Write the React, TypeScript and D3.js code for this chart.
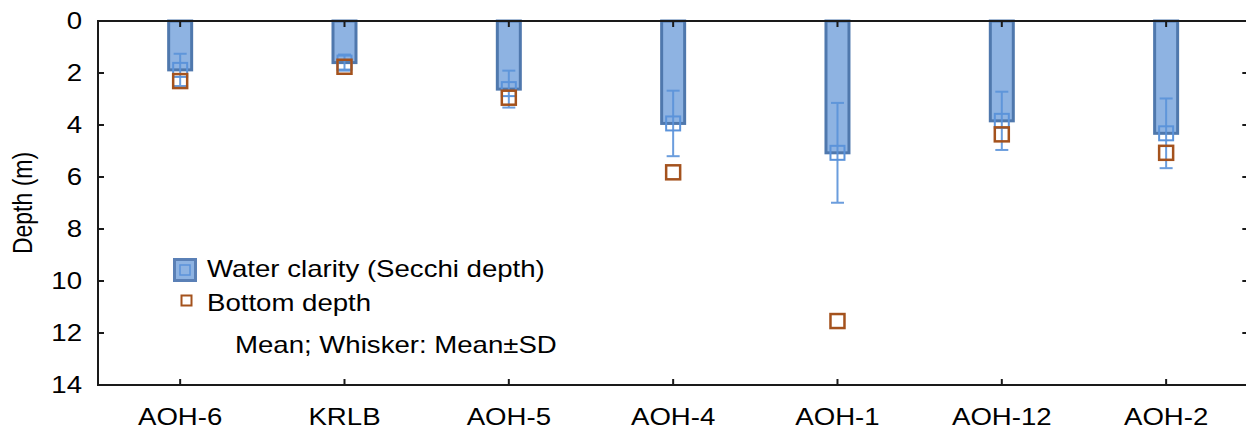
import React from 'react';
import * as d3 from 'd3';

const sites = ['AOH-6', 'KRLB', 'AOH-5', 'AOH-4', 'AOH-1', 'AOH-12', 'AOH-2'];
const secchiMean = [1.88, 1.6, 2.62, 3.94, 5.07, 3.84, 4.32];
const secchiSD = [0.62, 0.31, 0.71, 1.26, 1.92, 1.12, 1.34];
const bottomDepth = [2.31, 1.76, 2.95, 5.82, 11.54, 4.36, 5.07];
const yTicks = [0, 2, 4, 6, 8, 10, 12, 14];

const legendLabels = ['Water clarity (Secchi depth)', 'Bottom depth'];
const noteText = 'Mean; Whisker: Mean±SD';

const W = 1246;
const H = 432;
const font = '"Liberation Sans", Arial, sans-serif';
const sx = 1.2; // text in the reference is stretched horizontally

const barFill = '#8eb3e2';
const barStroke = '#4f78ad';
const whiskerColor = '#5b93da';
const bottomColor = '#a4521d';
const axisColor = '#1a1a1a';

const App = () => {
    const left = 98, right = 1248.3, top = 21, bottom = 385;

    const x = d3.scaleBand().domain(sites).range([left, right]).padding(0);
    const y = d3.scaleLinear().domain([0, 14]).range([top, bottom]);

    const cx = (s) => x(s) + x.bandwidth() / 2;
    const barW = 23;
    const mk = 14;
    const cap = 13;

    const stretchedText = (tx, ty, txt, anchor, key) => (
        <text key={key} transform={`translate(${tx},${ty}) scale(${sx},1)`} textAnchor={anchor}
            fontFamily={font} fontSize={23} fill="#000">{txt}</text>
    );

    return (
        <div style={{ position: 'absolute', left: 0, top: 0 }}>
            <svg width={W} height={H} style={{ display: 'block', background: '#fff' }}>
                {/* bars */}
                {sites.map((s, i) => (
                    <rect key={'b' + s} x={cx(s) - barW / 2} y={y(0)} width={barW}
                        height={y(secchiMean[i]) - y(0)} fill={barFill} stroke={barStroke} strokeWidth={3} />
                ))}

                {/* whiskers */}
                {sites.map((s, i) => {
                    const lo = y(secchiMean[i] - secchiSD[i]);
                    const hi = y(secchiMean[i] + secchiSD[i]);
                    return (
                        <g key={'w' + s} stroke={whiskerColor} strokeWidth={2} opacity={0.9}>
                            <line x1={cx(s)} x2={cx(s)} y1={lo} y2={hi} />
                            <line x1={cx(s) - cap / 2} x2={cx(s) + cap / 2} y1={lo} y2={lo} />
                            <line x1={cx(s) - cap / 2} x2={cx(s) + cap / 2} y1={hi} y2={hi} />
                        </g>
                    );
                })}

                {/* mean markers */}
                {sites.map((s, i) => (
                    <rect key={'m' + s} x={cx(s) - mk / 2} y={y(secchiMean[i]) - mk / 2} width={mk} height={mk}
                        fill="none" stroke={whiskerColor} strokeWidth={2} />
                ))}

                {/* bottom depth markers */}
                {sites.map((s, i) => (
                    <rect key={'d' + s} x={cx(s) - mk / 2} y={y(bottomDepth[i]) - mk / 2} width={mk} height={mk}
                        fill="none" stroke={bottomColor} strokeWidth={2.5} />
                ))}

                {/* frame */}
                <rect x={left} y={top} width={right - left} height={bottom - top} fill="none" stroke={axisColor} strokeWidth={2} />

                {/* x ticks, inward on top and bottom */}
                {sites.map(s => (
                    <g key={'xt' + s} stroke={axisColor} strokeWidth={2}>
                        <line x1={cx(s)} x2={cx(s)} y1={top} y2={top + 6} />
                        <line x1={cx(s)} x2={cx(s)} y1={bottom} y2={bottom - 6} />
                    </g>
                ))}

                {/* y ticks, inward on left and right */}
                {yTicks.slice(1, -1).map(t => (
                    <g key={'yt' + t} stroke={axisColor} strokeWidth={2}>
                        <line x1={left} x2={left + 6} y1={y(t)} y2={y(t)} />
                        <line x1={right} x2={right - 6} y1={y(t)} y2={y(t)} />
                    </g>
                ))}

                {/* y tick labels */}
                {yTicks.map(t => stretchedText(82, y(t) + 8, String(t), 'end', 'yl' + t))}

                {/* x tick labels */}
                {sites.map(s => stretchedText(cx(s), 425, s, 'middle', 'xl' + s))}

                {/* y axis title */}
                <text transform={`translate(32,203) scale(${sx},1) rotate(-90)`} textAnchor="middle"
                    fontFamily={font} fontSize={23} fill="#000">Depth (m)</text>

                {/* legend */}
                <rect x={174.5} y={259.5} width={21} height={21} fill={barFill} stroke="#5a80b6" strokeWidth={3} />
                <rect x={180} y={265} width={10} height={10} fill="none" stroke={whiskerColor} strokeWidth={1.5} />
                {stretchedText(207, 277, legendLabels[0], 'start', 'lg0')}
                <rect x={181.5} y={295.5} width={10} height={10} fill="none" stroke={bottomColor} strokeWidth={2} />
                {stretchedText(207, 311, legendLabels[1], 'start', 'lg1')}
                {stretchedText(235, 353, noteText, 'start', 'note')}
            </svg>
        </div>
    );
};

export default App;
